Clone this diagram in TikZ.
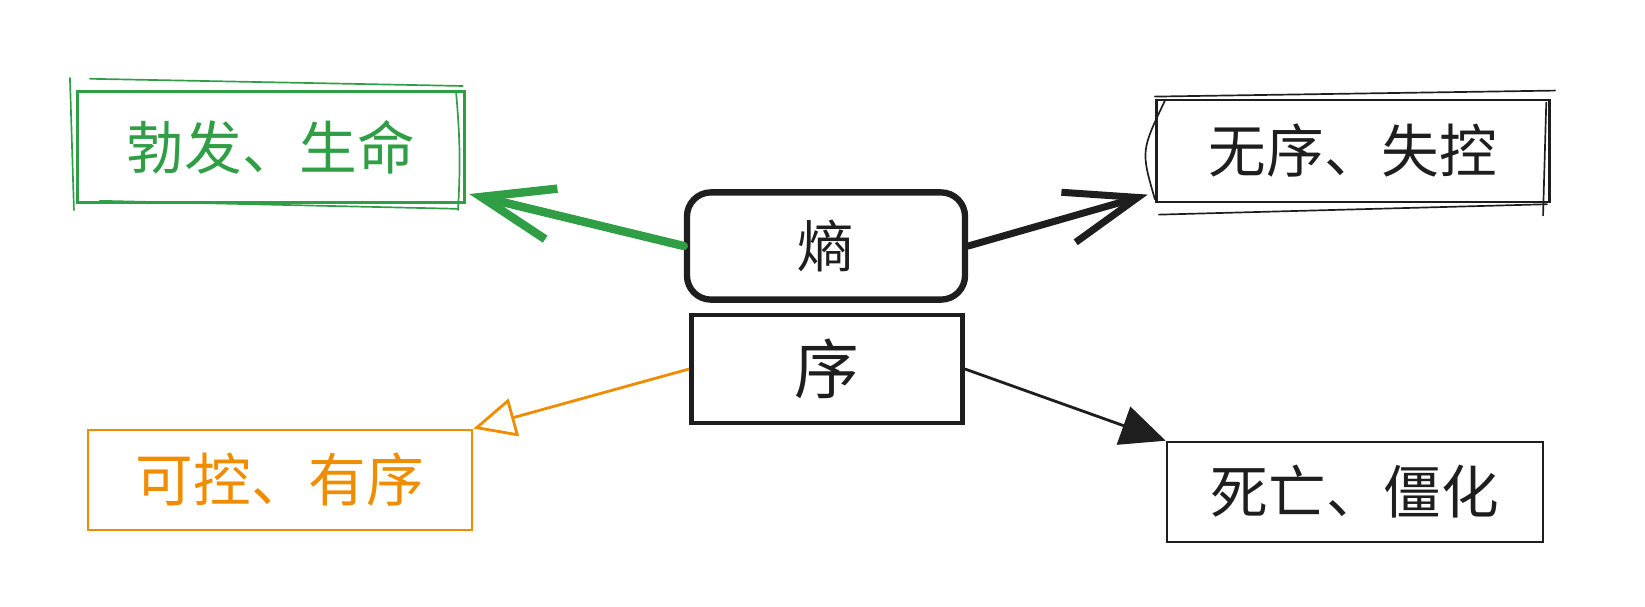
\documentclass[tikz,border=0pt]{standalone}
\usepackage{fontspec}
\usepackage{tikz}
\usetikzlibrary{arrows.meta}
\newfontfamily\cjk{Noto Sans CJK SC}

\begin{document}
\begin{tikzpicture}[x=0.025cm, y=-0.025cm]
    \useasboundingbox (0, 0) rectangle (1645, 606);

    \xdefinecolor{life}{RGB}{47, 158, 68}
    \xdefinecolor{ctrl}{RGB}{240, 140, 0}
    \xdefinecolor{ink}{RGB}{30, 30, 30}
    \tikzset{
        word/.style={draw=#1, text=#1, inner sep=0pt, font=\cjk\fontsize{41}{41}\selectfont},
        sketch/.style={#1, line width=1.2pt, line cap=round},
    }

    % Draw the two boxes in the middle
    \node[word=ink, line width=4.5pt, rounded corners=0.6cm, minimum width=6.95cm, minimum height=2.68cm,
        font=\cjk\fontsize{40}{40}\selectfont] (Entropy) at (826, 246) {熵};
    \node[word=ink, line width=3.3pt, minimum width=6.78cm, minimum height=2.7cm,
        font=\cjk\fontsize{46}{46}\selectfont] (Order) at (827, 369) {序};

    % Draw the four boxes round them
    \node[word=life, line width=2pt, minimum width=9.68cm, minimum height=2.78cm] (Bloom) at (271, 147) {勃发、生命};
    \node[word=ink, line width=2pt, minimum width=9.83cm, minimum height=2.55cm] (Chaos) at (1353, 151) {无序、失控};
    \node[word=ctrl, line width=2pt, minimum width=9.6cm, minimum height=2.5cm] (Control) at (280, 480) {可控、有序};
    \node[word=ink, line width=1.8pt, minimum width=9.4cm, minimum height=2.5cm] (Death) at (1355, 492) {死亡、僵化};

    % Add the hand drawn strokes
    \draw[sketch=life] ([xshift=0.35cm, yshift=0.28cm]Bloom.north west) -- ([xshift=-0.08cm, yshift=0.1cm]Bloom.north east);
    \draw[sketch=life] ([xshift=-0.15cm, yshift=0.3cm]Bloom.north west) -- ([xshift=-0.05cm, yshift=-0.15cm]Bloom.south west);
    \draw[sketch=life] ([xshift=-0.25cm, yshift=-0.05cm]Bloom.north east) to[bend left=4] ([xshift=-0.2cm, yshift=-0.15cm]Bloom.south east);
    \draw[sketch=life] ([xshift=0.6cm, yshift=0.08cm]Bloom.south west) -- ([xshift=-0.2cm, yshift=-0.12cm]Bloom.south east);
    \draw[sketch=ink] ([yshift=0.05cm]Chaos.north west) -- ([xshift=0.1cm, yshift=0.2cm]Chaos.north east);
    \draw[sketch=ink] ([xshift=0.25cm, yshift=-0.05cm]Chaos.north west) .. controls ([xshift=-0.35cm]Chaos.west) .. ([yshift=0.1cm]Chaos.south west);
    \draw[sketch=ink] ([xshift=0.1cm, yshift=-0.28cm]Chaos.south west) -- ([xshift=-0.1cm, yshift=-0.02cm]Chaos.south east);
    \draw[sketch=ink] ([xshift=-0.12cm, yshift=-0.1cm]Chaos.north east) -- ([xshift=-0.2cm, yshift=-0.3cm]Chaos.south east);

    % Connect the middle boxes to the boxes round them
    \draw[-{Straight Barb[length=1.8cm, width=1.3cm]}, life, line width=6pt, line cap=round]
        (Entropy.west) -- ([xshift=0.08cm, yshift=0.25cm]Bloom.south east);
    \draw[-{Straight Barb[length=1.8cm, width=1.3cm]}, ink, line width=5pt, line cap=round]
        (Entropy.east) -- ([xshift=-0.18cm, yshift=0.22cm]Chaos.south west);
    \draw[-{Triangle[open, length=1.05cm, width=0.97cm]}, ctrl, line width=2pt] (Order.west) -- (Control.north east);
    \draw[-{Triangle[length=1.12cm, width=1.0cm]}, ink, line width=2pt] (Order.east) -- (Death.north west);

\end{tikzpicture}
\end{document}
